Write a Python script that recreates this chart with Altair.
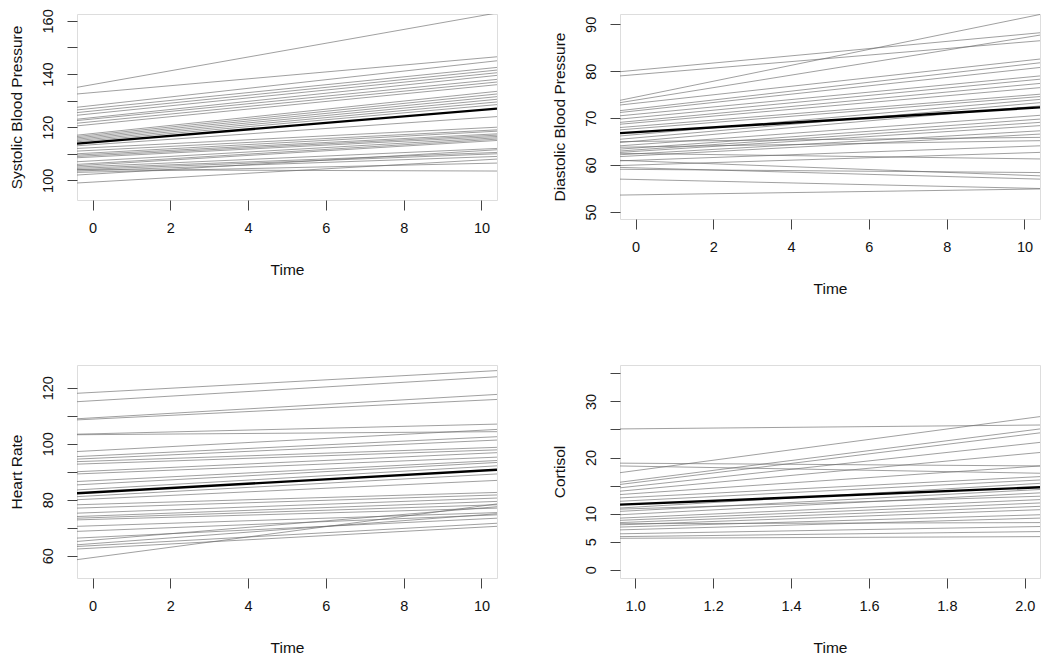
import altair as alt
import pandas as pd

# ---------------- data (values at left / right edge of each panel) ----------------
sbp_left = [135, 132.5, 127.5, 126.5, 125.5, 124.5, 123, 122.5, 121.5, 120.5, 117, 116.5,
            116, 115.5, 115, 114.5, 113, 112, 111, 110, 109.5, 109, 108.5, 107, 106, 105.5,
            105, 104.5, 104, 103.5, 103, 102, 104, 99]
sbp_right = [163, 146.5, 145, 142.5, 141.5, 140.5, 139.5, 138, 137, 136, 133.5, 132.5,
             131.5, 130.5, 129.5, 128.5, 124, 120, 119, 118.5, 117.5, 117, 116.5, 116, 115.5, 115,
             112, 110.5, 110, 109, 106.5, 111.5, 103.5, 108]
sbp_mean = [113.8, 127.0]

dbp_left = [79.9, 79.0, 73.8, 73.3, 72.8, 71.6, 71.2, 70.5, 69.8, 69.1, 68.7, 68.0, 67.5,
            66.2, 65.5, 64.8, 64.1, 63.4, 63.0, 62.7, 62.2, 61.8, 65.0, 63.8, 60.9, 59.9,
            62.5, 59.1, 61.0, 59.5, 57.0, 53.6]
dbp_right = [88.2, 86.5, 92.1, 87.7, 82.6, 81.8, 80.8, 79.0, 78.3, 77.4, 76.5, 75.1, 74.6,
             74.0, 73.3, 72.6, 70.6, 69.8, 69.1, 68.4, 67.3, 66.6, 65.9, 65.2, 64.1, 62.7,
             61.3, 58.4, 57.7, 57.0, 55.0, 54.9]
dbp_mean = [66.8, 72.3]

hr_left = [118, 115, 108.9, 108.5, 103.4, 103.2, 97.2, 95.4, 94.5, 93.6, 92.7, 90, 89.2,
           86.5, 85.3, 83.5, 81.1, 80, 78.2, 77, 75.2, 74, 73.4, 72.8, 70.5, 68.7, 66.3,
           65.1, 63.9, 63.3, 62.4, 58.6]
hr_right = [126.1, 123.9, 117.6, 115.8, 107, 104.3, 105.1, 102.5, 101.3, 98.7, 97.8, 96.8,
            95.2, 94, 93.3, 92.1, 89.2, 86.9, 82.6, 81.7, 80.6, 79.4, 78.2, 77, 75.4, 74.6,
            73.4, 77.5, 75.0, 71.6, 70.5, 78.5]
hr_mean = [82.3, 90.7]

cort_left = [25.1, 19.0, 18.5, 17.3, 15.6, 15.2, 14.6, 14.0, 13.4, 12.8, 12.2, 11.0, 10.4,
             9.8, 10.8, 9.2, 8.8, 8.4, 8.0, 7.6, 7.1, 8.2, 6.4, 5.9, 5.6]
cort_right = [25.8, 18.5, 17.2, 27.3, 25.1, 24.4, 22.7, 20.9, 18.5, 16.6, 16.0, 15.4, 14.3,
              13.7, 13.1, 12.5, 11.9, 11.3, 10.7, 9.8, 9.2, 8.4, 7.7, 6.8, 5.9]
cort_mean = [11.6, 14.7]

FONT = "Liberation Sans"
W = 420


def frame(left, right, xdom):
    rows = []
    for i, (a, b) in enumerate(zip(left, right)):
        rows.append({"id": i, "x": xdom[0], "y": a})
        rows.append({"id": i, "x": xdom[1], "y": b})
    return pd.DataFrame(rows)


def panel(left, right, mean, xdom, ydom, yticks, ylab_expr, ytitle, height,
          xticks, xfmt):
    xs = alt.Scale(domain=xdom, nice=False, zero=False)
    ys = alt.Scale(domain=ydom, nice=False, zero=False)
    xax = alt.Axis(values=xticks, tickCount=50, format=xfmt, title="Time", grid=False,
                   domain=False, tickSize=10, tickColor="#444", labelPadding=11,
                   labelFontSize=14.5, labelFont=FONT, labelColor="#111",
                   titleFont=FONT, titleFontSize=15.5, titleFontWeight="normal",
                   titleColor="#111", titleY=69, titleBaseline="middle",
                   labelFlush=False, labelOverlap=False)
    yax = alt.Axis(values=yticks, tickCount=50, labelExpr=ylab_expr, title=ytitle,
                   grid=False, domain=False, tickSize=10, tickColor="#444",
                   labelAngle=270, labelAlign="center", labelBaseline="bottom",
                   labelPadding=12, labelFontSize=14.5, labelFont=FONT,
                   labelColor="#111", titleFont=FONT, titleFontSize=15.5,
                   titleFontWeight="normal", titleColor="#111", titleX=-61,
                   titleBaseline="middle", labelOverlap=False, labelFlush=False)
    subj = alt.Chart(frame(left, right, xdom)).mark_line(
        stroke="#666666", strokeWidth=1, opacity=0.62, clip=True
    ).encode(
        x=alt.X("x:Q", scale=xs, axis=xax),
        y=alt.Y("y:Q", scale=ys, axis=yax),
        detail="id:N",
    )
    mdf = pd.DataFrame({"x": xdom, "y": mean})
    mline = alt.Chart(mdf).mark_line(stroke="black", strokeWidth=2.4, clip=True).encode(
        x=alt.X("x:Q", scale=xs), y=alt.Y("y:Q", scale=ys)
    )
    return alt.layer(subj, mline).properties(width=W, height=height)


p1 = panel(sbp_left, sbp_right, sbp_mean, [-0.4, 10.4], [92.6, 162.6],
           [100, 110, 120, 130, 140, 150, 160],
           "datum.value % 20 == 0 ? datum.label : ''",
           "Systolic Blood Pressure", 186, [0, 2, 4, 6, 8, 10], "d")
p2 = panel(dbp_left, dbp_right, dbp_mean, [-0.4, 10.4], [48.5, 92.2],
           [50, 60, 70, 80, 90], "datum.label",
           "Diastolic Blood Pressure", 205, [0, 2, 4, 6, 8, 10], "d")
p3 = panel(hr_left, hr_right, hr_mean, [-0.4, 10.4], [52.05, 128.1],
           [60, 70, 80, 90, 100, 110, 120],
           "datum.value % 20 == 0 ? datum.label : ''",
           "Heart Rate", 213, [0, 2, 4, 6, 8, 10], "d")
p4 = panel(cort_left, cort_right, cort_mean, [0.961, 2.039], [-1.48, 36.5],
           [0, 5, 10, 15, 20, 25, 30, 35],
           "(datum.value == 15 || datum.value == 25 || datum.value == 35) ? '' : datum.label",
           "Cortisol", 213, [1.0, 1.2, 1.4, 1.6, 1.8, 2.0], ".1f")

chart = alt.vconcat(
    alt.hconcat(p1, p2, spacing=53),
    alt.hconcat(p3, p4, spacing=53),
    spacing=67,
).properties(
    padding=0
).configure_view(
    stroke="#444", strokeWidth=1
).configure(background="white")

chart.save("out.html", embed_options={"renderer": "svg", "actions": False})
